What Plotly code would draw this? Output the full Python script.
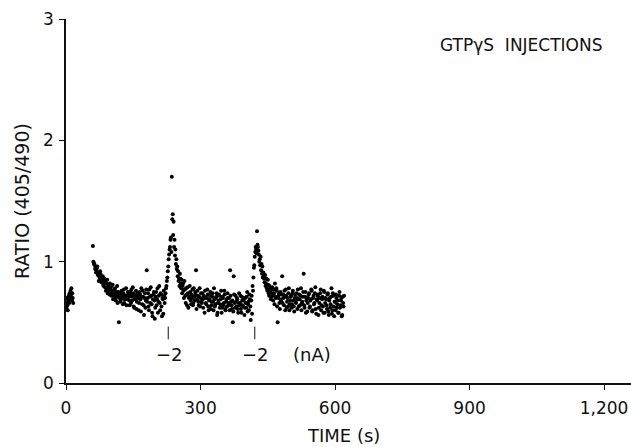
import plotly.graph_objects as go

# ---- data ----
t_pre = list(range(0, 17))
ratio_pre = [0.66, 0.62, 0.70, 0.64, 0.60, 0.68, 0.72, 0.66, 0.74, 0.70,
             0.76, 0.72, 0.78, 0.68, 0.74, 0.70, 0.66]

t_even = list(range(60, 621, 2))
ratio_even = [
    1.13, 0.99, 0.97, 0.95, 0.93, 0.96, 0.90, 0.88, 0.92, 0.86,
    0.84, 0.88, 0.80, 0.86, 0.83, 0.78, 0.85, 0.80, 0.76, 0.82,
    0.79, 0.74, 0.81, 0.72, 0.77, 0.70, 0.75, 0.80, 0.71, 0.50,
    0.73, 0.68, 0.76, 0.70, 0.74, 0.66, 0.72, 0.78, 0.69, 0.75,
    0.71, 0.64, 0.73, 0.77, 0.68, 0.74, 0.62, 0.70, 0.76, 0.67,
    0.72, 0.60, 0.75, 0.69, 0.78, 0.65, 0.71, 0.56, 0.74, 0.68,
    0.93, 0.70, 0.63, 0.77, 0.66, 0.72, 0.58, 0.69, 0.75, 0.53,
    0.71, 0.64, 0.78, 0.67, 0.80, 0.60, 0.73, 0.55, 0.69, 0.76,
    0.66, 0.74, 0.80, 0.87, 0.96, 1.06, 1.12, 1.20, 1.70, 1.39,
    1.33, 1.18, 1.10, 1.02, 0.96, 0.92, 0.86, 0.90, 0.82, 0.85,
    0.80, 0.76, 0.84, 0.72, 0.78, 0.64, 0.74, 0.70, 0.80, 0.68,
    0.73, 0.77, 0.66, 0.71, 0.75, 0.93, 0.69, 0.72, 0.64, 0.78,
    0.70, 0.67, 0.74, 0.62, 0.71, 0.76, 0.66, 0.70, 0.73, 0.60,
    0.69, 0.75, 0.64, 0.71, 0.67, 0.78, 0.63, 0.70, 0.74, 0.58,
    0.68, 0.72, 0.65, 0.76, 0.62, 0.70, 0.66, 0.73, 0.60, 0.69,
    0.74, 0.64, 0.70, 0.93, 0.67, 0.61, 0.50, 0.88, 0.66, 0.72,
    0.63, 0.69, 0.58, 0.74, 0.66, 0.61, 0.71, 0.64, 0.68, 0.56,
    0.70, 0.62, 0.75, 0.65, 0.60, 0.69, 0.52, 0.72, 0.80, 0.87,
    0.97, 1.08, 1.10, 1.25, 1.12, 1.06, 1.02, 1.04, 0.98, 0.96,
    0.91, 0.86, 0.89, 0.82, 0.78, 0.85, 0.74, 0.80, 0.76, 0.71,
    0.79, 0.68, 0.74, 0.82, 0.70, 0.76, 0.50, 0.72, 0.66, 0.75,
    0.69, 0.88, 0.73, 0.64, 0.71, 0.77, 0.62, 0.70, 0.74, 0.60,
    0.68, 0.72, 0.65, 0.76, 0.63, 0.70, 0.67, 0.74, 0.61, 0.69,
    0.73, 0.64, 0.78, 0.66, 0.71, 0.90, 0.62, 0.75, 0.68, 0.59,
    0.70, 0.74, 0.63, 0.69, 0.76, 0.60, 0.72, 0.66, 0.79, 0.57,
    0.68, 0.73, 0.62, 0.70, 0.77, 0.64, 0.71, 0.58, 0.75, 0.66,
    0.69, 0.61, 0.74, 0.56, 0.70, 0.65, 0.78, 0.60, 0.72, 0.55,
    0.67, 0.73, 0.62, 0.68, 0.58, 0.75, 0.64, 0.70, 0.56, 0.66,
    0.72,
]

t_odd = list(range(61, 620, 2))
ratio_odd = [
    1.00, 0.98, 0.94, 0.91, 0.95, 0.89, 0.84, 0.87, 0.90, 0.83,
    0.86, 0.81, 0.84, 0.79, 0.76, 0.82, 0.74, 0.78, 0.73, 0.77,
    0.72, 0.76, 0.69, 0.74, 0.78, 0.68, 0.73, 0.66, 0.75, 0.70,
    0.67, 0.74, 0.71, 0.65, 0.77, 0.69, 0.72, 0.64, 0.70, 0.73,
    0.68, 0.75, 0.66, 0.71, 0.79, 0.63, 0.72, 0.69, 0.61, 0.74,
    0.70, 0.66, 0.73, 0.59, 0.71, 0.76, 0.64, 0.70, 0.62, 0.77,
    0.67, 0.74, 0.60, 0.71, 0.79, 0.65, 0.55, 0.73, 0.68, 0.62,
    0.75, 0.69, 0.58, 0.72, 0.66, 0.74, 0.63, 0.70, 0.57, 0.72,
    0.70, 0.78, 0.84, 0.92, 1.02, 1.10, 1.18, 1.08, 1.35, 1.22,
    1.12, 1.05, 0.98, 0.94, 0.88, 0.84, 0.80, 0.86, 0.78, 0.74,
    0.82, 0.70, 0.77, 0.66, 0.73, 0.79, 0.62, 0.71, 0.75, 0.65,
    0.70, 0.64, 0.78, 0.68, 0.73, 0.61, 0.76, 0.67, 0.71, 0.63,
    0.74, 0.66, 0.69, 0.72, 0.58, 0.70, 0.65, 0.77, 0.63, 0.68,
    0.72, 0.61, 0.67, 0.74, 0.60, 0.69, 0.65, 0.71, 0.56, 0.66,
    0.73, 0.62, 0.69, 0.58, 0.71, 0.64, 0.76, 0.61, 0.67, 0.63,
    0.70, 0.66, 0.60, 0.72, 0.64, 0.68, 0.59, 0.73, 0.62, 0.67,
    0.70, 0.61, 0.66, 0.64, 0.72, 0.58, 0.68, 0.63, 0.70, 0.62,
    0.66, 0.71, 0.59, 0.67, 0.73, 0.63, 0.68, 0.57, 0.76, 0.95,
    1.04, 1.12, 1.07, 1.14, 1.09, 1.00, 0.97, 0.93, 0.90, 0.87,
    0.88, 0.83, 0.80, 0.86, 0.76, 0.81, 0.72, 0.77, 0.69, 0.74,
    0.72, 0.77, 0.65, 0.71, 0.78, 0.63, 0.70, 0.74, 0.61, 0.68,
    0.73, 0.66, 0.70, 0.76, 0.60, 0.72, 0.67, 0.63, 0.78, 0.65,
    0.71, 0.62, 0.74, 0.68, 0.59, 0.73, 0.66, 0.70, 0.77, 0.63,
    0.69, 0.72, 0.60, 0.67, 0.75, 0.64, 0.71, 0.58, 0.70, 0.66,
    0.73, 0.62, 0.68, 0.77, 0.59, 0.70, 0.65, 0.74, 0.61, 0.69,
    0.72, 0.56, 0.66, 0.74, 0.60, 0.69, 0.63, 0.76, 0.58, 0.70,
    0.64, 0.73, 0.59, 0.68, 0.62, 0.71, 0.57, 0.74, 0.63, 0.67,
    0.60, 0.70, 0.65, 0.58, 0.72, 0.62, 0.68, 0.55, 0.71, 0.63,
]

injection_times = [228, 421]
injection_labels = ["\u22122", "\u22122"]
x_ticks = [0, 300, 600, 900, 1200]
y_ticks = [0, 1, 2, 3]

FONT = "DejaVu Sans"
INK = "#111111"

fig = go.Figure()
fig.add_trace(go.Scatter(x=t_pre + t_even + t_odd, y=ratio_pre + ratio_even + ratio_odd,
                         mode="markers",
                         marker=dict(color="black", size=4, symbol="circle"),
                         showlegend=False, hoverinfo="skip"))

for t in injection_times:
    fig.add_shape(type="line", xref="x", yref="y", x0=t, x1=t, y0=0.36, y1=0.465,
                  line=dict(color=INK, width=1))
for t, lab in zip(injection_times, injection_labels):
    fig.add_annotation(x=t + 2, y=0.235, xref="x", yref="y", text=lab, showarrow=False,
                       font=dict(family=FONT, size=18, color=INK))
fig.add_annotation(x=549, y=0.235, xref="x", yref="y", text="(nA)", showarrow=False,
                   font=dict(family=FONT, size=18, color=INK))
fig.add_annotation(x=1015, y=2.785, xref="x", yref="y", text="GTP\u03b3S  INJECTIONS",
                   showarrow=False, font=dict(family=FONT, size=17, color=INK))
fig.add_annotation(x=618, y=0, xref="x", yref="paper", yanchor="middle", yshift=-52,
                   text="TIME (s)", showarrow=False,
                   font=dict(family=FONT, size=18, color=INK))
fig.add_annotation(x=0, y=0.5, xref="paper", yref="paper", xanchor="center",
                   xshift=-44, text="RATIO (405/490)", textangle=-90, showarrow=False,
                   font=dict(family=FONT, size=19, color=INK))

fig.update_layout(
    width=631, height=447,
    margin=dict(l=66, r=0, t=19, b=64),
    paper_bgcolor="white", plot_bgcolor="white",
    font=dict(family=FONT, size=17, color=INK),
    xaxis=dict(range=[0, 1260], tickvals=x_ticks, tickformat=",d",
               showline=True, linecolor=INK, linewidth=1.5, ticks="outside",
               ticklen=5, tickcolor=INK, showgrid=False, zeroline=False,
               ticklabelstandoff=4),
    yaxis=dict(range=[0, 3], tickvals=y_ticks, showline=True, linecolor=INK,
               linewidth=1.5, ticks="outside", ticklen=5, tickcolor=INK,
               showgrid=False, zeroline=False, ticklabelstandoff=2),
)

fig.write_html("out.html")
